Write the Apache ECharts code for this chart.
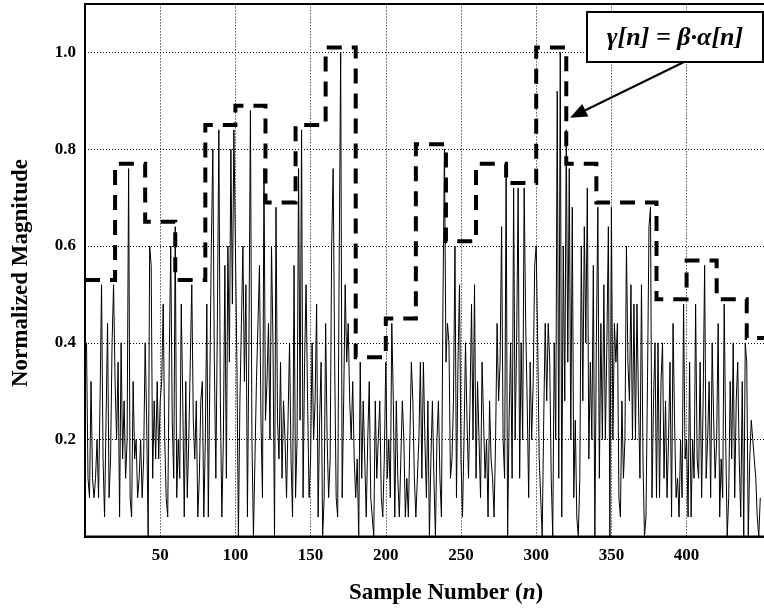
<!DOCTYPE html>
<html>
<head>
<meta charset="utf-8">
<script src="https://cdn.jsdelivr.net/npm/echarts@6/dist/echarts.min.js"></script>
<style>
  html, body { margin: 0; padding: 0; background: #fff; }
  #chart { width: 764px; height: 609px; }
</style>
</head>
<body>
<div id="chart"></div>
<script>
// Normalized sample magnitudes alpha[n], n = 1..450 (one row per block of 20 samples)
const alphaSamples = [
  0.40,0.12,0.08,0.32,0.12,0.08,0.12,0.20,0.08,0.28,0.52,0.16,0.04,0.24,0.44,0.08,0.16,0.40,0.52,0.32,
  0.20,0.36,0.04,0.40,0.16,0.28,0.12,0.20,0.76,0.08,0.04,0.32,0.16,0.20,0.08,0.12,0.20,0.08,0.16,0.40,
  0.24,0.00,0.60,0.56,0.12,0.28,0.16,0.32,0.16,0.28,0.32,0.48,0.20,0.08,0.04,0.36,0.60,0.24,0.12,0.64,
  0.08,0.20,0.12,0.48,0.28,0.04,0.32,0.08,0.20,0.36,0.52,0.24,0.16,0.28,0.04,0.12,0.28,0.32,0.04,0.20,
  0.48,0.04,0.32,0.60,0.80,0.36,0.12,0.44,0.84,0.28,0.04,0.20,0.56,0.12,0.60,0.36,0.80,0.48,0.84,0.60,
  0.36,0.00,0.28,0.44,0.60,0.32,0.52,0.04,0.40,0.88,0.20,0.00,0.16,0.32,0.44,0.56,0.24,0.08,0.76,0.24,
  0.32,0.44,0.20,0.60,0.40,0.00,0.68,0.24,0.16,0.36,0.12,0.28,0.20,0.08,0.24,0.40,0.16,0.04,0.56,0.08,
  0.20,0.76,0.24,0.84,0.08,0.36,0.52,0.28,0.08,0.16,0.40,0.20,0.28,0.48,0.04,0.24,0.36,0.00,0.08,0.44,
  0.20,0.08,0.16,0.60,0.76,0.36,0.08,0.04,0.56,1.00,0.08,0.28,0.52,0.36,0.44,0.28,0.20,0.32,0.16,0.08,
  0.16,0.00,0.36,0.12,0.28,0.16,0.04,0.20,0.32,0.08,0.04,0.00,0.28,0.12,0.20,0.28,0.08,0.04,0.16,0.36,
  0.12,0.20,0.08,0.44,0.28,0.04,0.28,0.12,0.04,0.16,0.28,0.20,0.04,0.12,0.04,0.20,0.36,0.28,0.12,0.04,
  0.04,0.20,0.36,0.12,0.36,0.20,0.08,0.28,0.00,0.16,0.28,0.12,0.00,0.20,0.28,0.12,0.04,0.48,0.80,0.36,
  0.44,0.40,0.12,0.16,0.28,0.60,0.08,0.36,0.52,0.16,0.04,0.20,0.40,0.24,0.12,0.28,0.48,0.20,0.52,0.12,
  0.32,0.20,0.08,0.36,0.24,0.12,0.20,0.04,0.28,0.16,0.12,0.04,0.20,0.44,0.28,0.36,0.64,0.20,0.12,0.76,
  0.00,0.24,0.40,0.12,0.72,0.20,0.40,0.72,0.12,0.40,0.20,0.72,0.44,0.28,0.08,0.36,0.20,0.32,0.56,0.60,
  0.40,0.16,0.08,0.00,0.24,0.44,0.28,0.44,0.36,0.12,0.00,0.40,0.20,0.92,0.12,1.00,0.04,0.60,0.28,0.84,
  0.36,0.76,0.20,0.68,0.08,0.24,0.04,0.00,0.12,0.60,0.28,0.64,0.40,0.72,0.16,0.36,0.20,0.56,0.00,0.40,
  0.68,0.12,0.44,0.20,0.52,0.20,0.40,0.64,0.00,0.68,0.20,0.44,0.36,0.44,0.08,0.04,0.28,0.12,0.20,0.60,
  0.36,0.28,0.52,0.20,0.48,0.20,0.48,0.28,0.12,0.52,0.16,0.00,0.04,0.32,0.64,0.68,0.08,0.28,0.40,0.08,
  0.40,0.08,0.32,0.40,0.12,0.28,0.08,0.20,0.36,0.04,0.44,0.24,0.08,0.12,0.04,0.20,0.08,0.48,0.16,0.20,
  0.04,0.36,0.04,0.20,0.12,0.48,0.16,0.12,0.36,0.08,0.28,0.56,0.12,0.20,0.32,0.08,0.40,0.24,0.12,0.20,
  0.44,0.04,0.16,0.08,0.48,0.20,0.00,0.08,0.32,0.16,0.40,0.08,0.28,0.36,0.16,0.04,0.32,0.00,0.40,0.36,
  0.00,0.16,0.24,0.20,0.16,0.12,0.04,0.00,0.08
];

// Scaled block envelope gamma[n] = beta * alpha[n], one level per 20-sample block
const blockStart = [0, 20, 40, 60, 80, 100, 120, 140, 160, 180, 200, 220, 240, 260, 280, 300, 320, 340, 360, 380, 400, 420, 440];
const gammaLevels = [0.53, 0.77, 0.65, 0.53, 0.85, 0.89, 0.69, 0.85, 1.01, 0.37, 0.45, 0.81, 0.61, 0.77, 0.73, 1.01, 0.77, 0.69, 0.69, 0.49, 0.57, 0.49, 0.41];
const lastSample = 453;

// Axis tick labels
const xTicks = [50, 100, 150, 200, 250, 300, 350, 400];
const yTicks = [0.2, 0.4, 0.6, 0.8, 1.0];

const serif = '"Liberation Serif", "Times New Roman", Times, serif';

const signalData = alphaSamples.map((v, i) => [i + 1, v]);
const gammaData = blockStart.map((x, i) => [x, gammaLevels[i]]);
gammaData.push([lastSample, gammaLevels[gammaLevels.length - 1]]);

const chart = echarts.init(document.getElementById('chart'), null, { renderer: 'canvas' });

chart.setOption({
  animation: false,
  backgroundColor: '#fff',
  grid: {
    left: 85, top: 4, width: 681.3, height: 532.4,
    outerBoundsMode: 'none',
    containLabel: false,
    show: true, borderColor: '#000', borderWidth: 2, backgroundColor: 'transparent'
  },
  xAxis: {
    type: 'value', min: 0, max: lastSample, interval: 50,
    axisLine: { show: true, onZero: false, lineStyle: { color: '#000', width: 2 } },
    axisTick: { show: false },
    splitLine: { show: false },
    axisLabel: {
      formatter: v => (xTicks.indexOf(v) >= 0 ? String(v) : ''),
      color: '#000', fontFamily: serif, fontWeight: 'bold', fontSize: 17, margin: 11
    }
  },
  yAxis: {
    type: 'value', min: 0, max: 1.1, interval: 0.2,
    axisLine: { show: true, onZero: false, lineStyle: { color: '#000', width: 2 } },
    axisTick: { show: false },
    splitLine: { show: true, lineStyle: { color: '#000', width: 1, type: [1, 2] } },
    axisLabel: {
      formatter: v => (yTicks.some(t => Math.abs(t - v) < 1e-6) ? v.toFixed(1) : ''),
      color: '#000', fontFamily: serif, fontWeight: 'bold', fontSize: 17, margin: 9
    }
  },
  series: [
    {
      name: 'alpha',
      type: 'line',
      data: signalData,
      symbol: 'none',
      z: 2,
      lineStyle: { color: '#000', width: 1 },
      markLine: {
        silent: true,
        symbol: ['none', 'none'],
        label: { show: false },
        lineStyle: { color: '#000', width: 1, type: [1, 2] },
        data: xTicks.map(v => ({ xAxis: v }))
      }
    },
    {
      name: 'gamma',
      type: 'line',
      data: gammaData,
      step: 'end',
      symbol: 'none',
      z: 3,
      lineStyle: { color: '#000', width: 4, type: [15, 10], cap: 'butt', join: 'miter' }
    }
  ]
});

// Annotation: label box with an arrow pointing at the envelope
const arrowTarget = chart.convertToPixel('grid', [322.5, 0.865]);
const boxRect = { x: 587, y: 12, width: 176, height: 50 };
const arrowStart = [684, 62];
const dx = arrowTarget[0] - arrowStart[0];
const dy = arrowTarget[1] - arrowStart[1];
const len = Math.sqrt(dx * dx + dy * dy);
const ux = dx / len, uy = dy / len;
const headLen = 17, headHalf = 7;
const base = [arrowTarget[0] - ux * headLen, arrowTarget[1] - uy * headLen];

chart.setOption({
  graphic: [
    {
      type: 'text',
      x: 446, y: 593,
      style: {
        text: '{a|Sample Number (}{b|n}{a|)}',
        align: 'center', verticalAlign: 'middle',
        rich: {
          a: { fontFamily: serif, fontWeight: 'bold', fontSize: 23, fill: '#000' },
          b: { fontFamily: serif, fontWeight: 'bold', fontStyle: 'italic', fontSize: 23, fill: '#000' }
        }
      }
    },
    {
      type: 'text',
      x: 21, y: 273,
      rotation: Math.PI / 2,
      style: {
        text: 'Normalized Magnitude',
        font: 'bold 23px ' + serif,
        fill: '#000', align: 'center', verticalAlign: 'middle'
      }
    },
    {
      type: 'line',
      shape: { x1: arrowStart[0], y1: arrowStart[1], x2: base[0], y2: base[1] },
      style: { stroke: '#000', lineWidth: 2 },
      z: 10
    },
    {
      type: 'polygon',
      shape: {
        points: [
          arrowTarget,
          [base[0] - uy * headHalf, base[1] + ux * headHalf],
          [base[0] + uy * headHalf, base[1] - ux * headHalf]
        ]
      },
      style: { fill: '#000' },
      z: 10
    },
    {
      type: 'rect',
      shape: boxRect,
      style: { fill: '#fff', stroke: '#000', lineWidth: 2 },
      z: 10
    },
    {
      type: 'text',
      x: boxRect.x + boxRect.width / 2, y: boxRect.y + boxRect.height / 2 + 1,
      style: {
        text: 'γ[n] = β·α[n]',
        font: 'italic bold 26px ' + serif,
        fill: '#000', align: 'center', verticalAlign: 'middle'
      },
      z: 11
    }
  ]
});
</script>
</body>
</html>
